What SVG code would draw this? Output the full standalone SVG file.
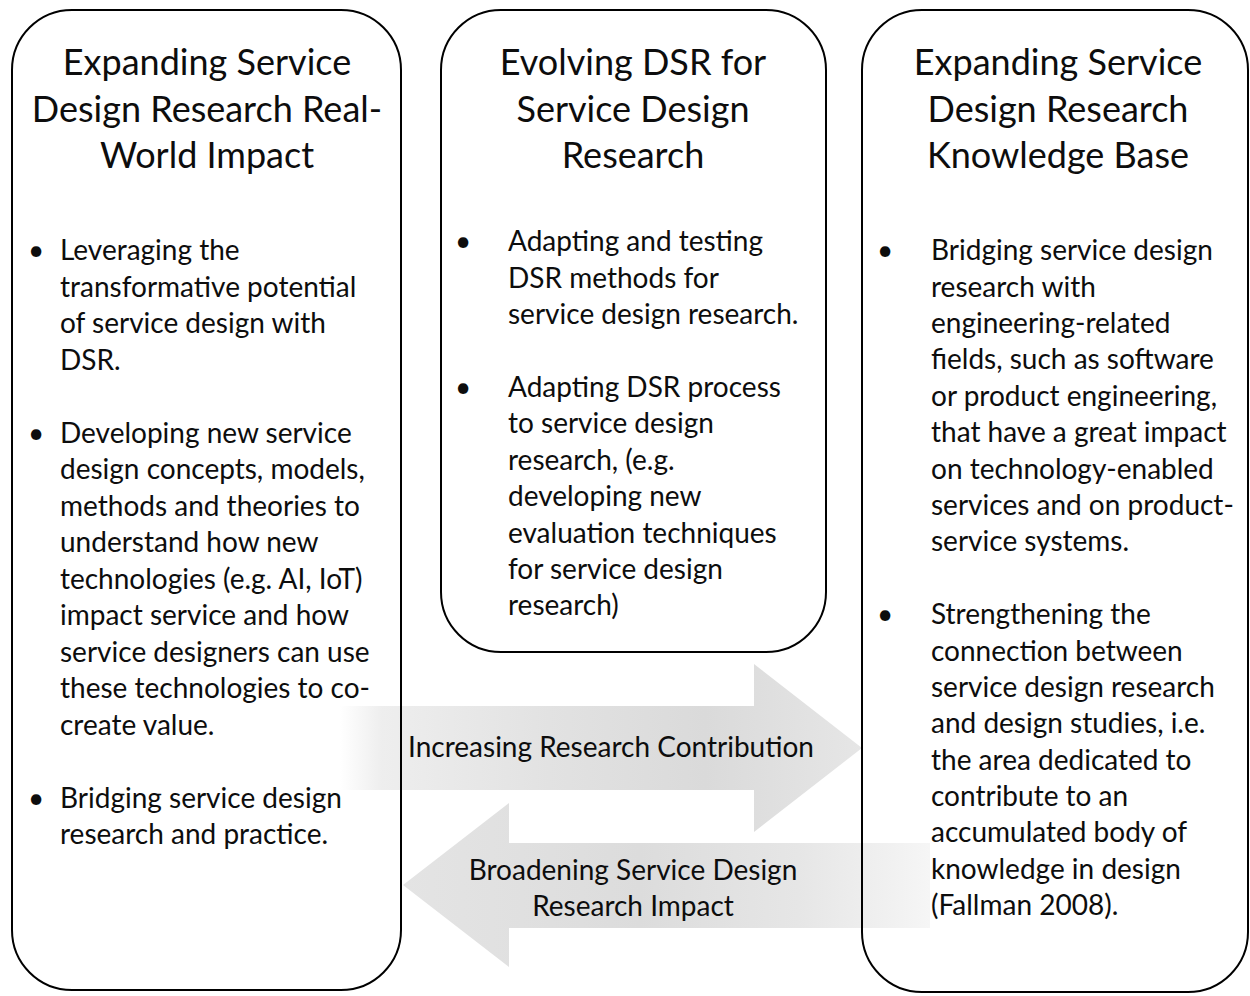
<svg xmlns="http://www.w3.org/2000/svg" width="1250" height="996" viewBox="0 0 1250 996">
<style>
.box{fill:none;stroke:#000;stroke-width:2}
.t{font-family:Lato,"Open Sans",sans-serif;fill:#0d0d0d}
.title{font-size:36px;text-anchor:middle}
.body{font-size:28px}
.lab{font-size:28px;text-anchor:middle}
</style>
<defs>
<linearGradient id="gR" gradientUnits="userSpaceOnUse" x1="340" y1="0" x2="862" y2="0">
<stop offset="0" stop-color="#ffffff"/>
<stop offset="0.08" stop-color="#eeeeee"/>
<stop offset="0.4" stop-color="#e2e2e2"/>
<stop offset="0.7" stop-color="#dadada"/>
<stop offset="1" stop-color="#e6e6e6"/>
</linearGradient>
<linearGradient id="gL" gradientUnits="userSpaceOnUse" x1="403" y1="0" x2="930" y2="0">
<stop offset="0" stop-color="#e4e4e4"/>
<stop offset="0.45" stop-color="#dcdcdc"/>
<stop offset="0.75" stop-color="#e6e6e6"/>
<stop offset="0.93" stop-color="#f1f1f1"/>
<stop offset="1" stop-color="#f6f6f6"/>
</linearGradient>
</defs>
<rect width="1250" height="996" fill="#fff"/>
<g id="connectors">
<g id="arrow-increasing">
<path d="M340,706 L754,706 L754,664 L862,748 L754,832 L754,790 L340,790 Z" fill="url(#gR)"/>
<text class="t lab" x="611" y="757">Increasing Research Contribution</text>
</g>
<g id="arrow-broadening">
<path d="M403,885 L509,803 L509,843 L930,843 L930,928 L509,928 L509,967 Z" fill="url(#gL)"/>
<text class="t lab" x="633" y="880">Broadening Service Design</text>
<text class="t lab" x="633" y="916">Research Impact</text>
</g>
</g>
<g id="node-left">
<rect class="box" x="12" y="10" width="389" height="980" rx="60" ry="60"/>
<text class="t title" x="207" y="75">Expanding Service</text>
<text class="t title" x="207" y="122">Design Research Real-</text>
<text class="t title" x="207" y="168">World Impact</text>
<g class="t body">
<text x="28" y="260">•</text>
<text x="60" y="260">Leveraging the</text>
<text x="60" y="296.5">transformative potential</text>
<text x="60" y="333">of service design with</text>
<text x="60" y="369.5">DSR.</text>
<text x="28" y="442.5">•</text>
<text x="60" y="442.5">Developing new service</text>
<text x="60" y="479">design concepts, models,</text>
<text x="60" y="515.5">methods and theories to</text>
<text x="60" y="552">understand how new</text>
<text x="60" y="588.5">technologies (e.g. AI, IoT)</text>
<text x="60" y="625">impact service and how</text>
<text x="60" y="661.5">service designers can use</text>
<text x="60" y="698">these technologies to co-</text>
<text x="60" y="734.5">create value.</text>
<text x="28" y="807.5">•</text>
<text x="60" y="807.5">Bridging service design</text>
<text x="60" y="844">research and practice.</text>
</g>
</g>
<g id="node-middle">
<rect class="box" x="441" y="10" width="385" height="642" rx="60" ry="60"/>
<text class="t title" x="633" y="75">Evolving DSR for</text>
<text class="t title" x="633" y="122">Service Design</text>
<text class="t title" x="633" y="168">Research</text>
<g class="t body">
<text x="455" y="251">•</text>
<text x="508" y="251">Adapting and testing</text>
<text x="508" y="288">DSR methods for</text>
<text x="508" y="324">service design research.</text>
<text x="455" y="397">•</text>
<text x="508" y="397">Adapting DSR process</text>
<text x="508" y="433">to service design</text>
<text x="508" y="470">research, (e.g.</text>
<text x="508" y="506">developing new</text>
<text x="508" y="543">evaluation techniques</text>
<text x="508" y="579">for service design</text>
<text x="508" y="615">research)</text>
</g>
</g>
<g id="node-right">
<rect class="box" x="862" y="10" width="386" height="982" rx="60" ry="60"/>
<text class="t title" x="1058" y="75">Expanding Service</text>
<text class="t title" x="1058" y="122">Design Research</text>
<text class="t title" x="1058" y="168">Knowledge Base</text>
<g class="t body">
<text x="877" y="260">•</text>
<text x="931" y="260">Bridging service design</text>
<text x="931" y="297">research with</text>
<text x="931" y="333">engineering-related</text>
<text x="931" y="369">fields, such as software</text>
<text x="931" y="406">or product engineering,</text>
<text x="931" y="442">that have a great impact</text>
<text x="931" y="479">on technology-enabled</text>
<text x="931" y="515">services and on product-</text>
<text x="931" y="551">service systems.</text>
<text x="877" y="624">•</text>
<text x="931" y="624">Strengthening the</text>
<text x="931" y="661">connection between</text>
<text x="931" y="697">service design research</text>
<text x="931" y="733">and design studies, i.e.</text>
<text x="931" y="770">the area dedicated to</text>
<text x="931" y="806">contribute to an</text>
<text x="931" y="842">accumulated body of</text>
<text x="931" y="879">knowledge in design</text>
<text x="931" y="915">(Fallman 2008).</text>
</g>
</g>
</svg>
